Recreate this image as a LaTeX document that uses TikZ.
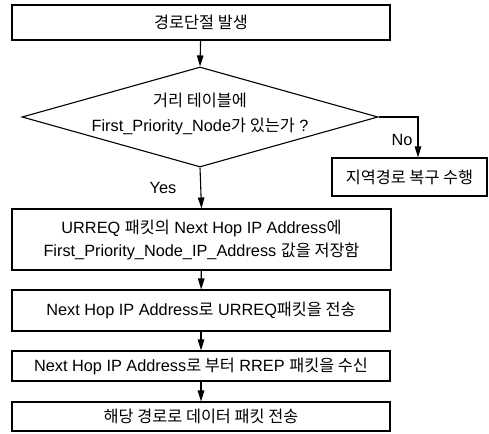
\documentclass[tikz,border=0pt]{standalone}
\usepackage{fontspec}
\setmainfont{Liberation Sans}
\newfontfamily\krfont{Noto Sans CJK KR}
\usetikzlibrary{shapes.geometric,arrows.meta,calc}
\newcommand{\K}[1]{{\krfont #1}}
\begin{document}
\begin{tikzpicture}[x=1pt,y=-1pt,
  every node/.style={font=\fontsize{16.3}{23}\selectfont},
  box/.style={draw, line width=1.1pt, inner sep=0pt, align=center, minimum width=378pt},
  arr/.style={-{Triangle[length=11pt,width=6.5pt]}, line width=1.1pt},
  lbl/.style={inner sep=0pt}]
\useasboundingbox (0,0) rectangle (489,433);
\node[box, minimum height=35pt] (start) at (201,22.5) {\K{경로단절 발생}};
\node[draw, line width=1.1pt, diamond, minimum width=356pt, minimum height=100pt, inner sep=0pt] (dec) at (200,117) {};
\node[align=center, inner sep=0pt, font=\fontsize{16.3}{25}\selectfont] (dtext) at (200,114) {\K{거리 테이블에}\\First\_Priority\_Node\K{가 있는가} ?};
\node[box, minimum width=155pt, minimum height=38pt] (local) at (409.5,177) {\K{지역경로 복구 수행}};
\node[box, minimum width=379pt, minimum height=61pt] (b3) at (201.5,239.5) {URREQ \K{패킷의} Next Hop IP Address\K{에}\\First\_Priority\_Node\_IP\_Address \K{값을 저장함}};
\node[box, minimum height=41pt] (b4) at (201,310.5) {Next Hop IP Address\K{로} URREQ\K{패킷을 전송}};
\node[box, minimum height=30pt] (b5) at (201,366) {Next Hop IP Address\K{로 부터} RREP \K{패킷을 수신}};
\node[box, minimum height=29pt] (b6) at (201,416.5) {\K{해당 경로로 데이터 패킷 전송}};
\node[lbl] (yes) at (163,188) {Yes};
\node[lbl] (no) at (402,140) {No};
\draw[arr] (start) -- (dec.north);
\draw[arr] (dec.south) -- (b3.north);
\draw[arr] (dec.east) -| ([xshift=8.5pt]local.north);
\draw[arr] (b3) -- (b4);
\draw[arr] (b4) -- (b5);
\draw[arr] (b5) -- (b6);
\end{tikzpicture}
\end{document}
